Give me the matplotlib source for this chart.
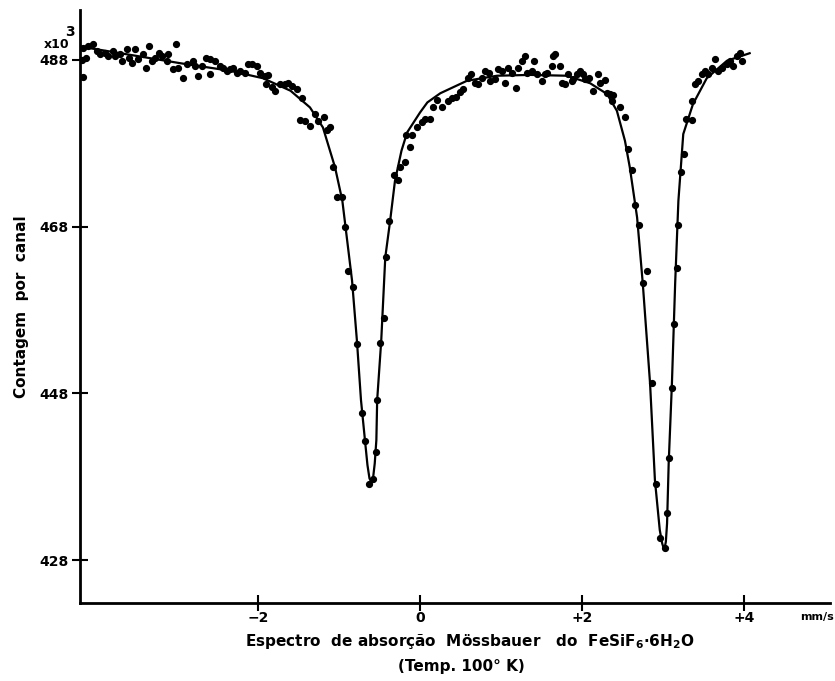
import numpy as np
import matplotlib
matplotlib.use("Agg")
import matplotlib.pyplot as plt

plt.rcParams['font.family'] = ['DejaVu Sans']
plt.rcParams['mathtext.default'] = 'regular'

# measured channels: velocity (mm/s) and counts (x10^3)
velocity = [-4.17, -4.16, -4.16, -4.12, -4.10, -4.04, -3.99, -3.95, -3.89, -3.85,
            -3.79, -3.77, -3.70, -3.68, -3.62, -3.60, -3.56, -3.52, -3.48, -3.42,
            -3.38, -3.35, -3.31, -3.27, -3.23, -3.19, -3.12, -3.11, -3.05, -3.02,
            -2.99, -2.93, -2.88, -2.81, -2.78, -2.74, -2.69, -2.65, -2.60, -2.59,
            -2.53, -2.47, -2.43, -2.38, -2.35, -2.31, -2.26, -2.22, -2.16, -2.12,
            -2.07, -2.01, -1.98, -1.91, -1.90, -1.88, -1.83, -1.79, -1.73, -1.67,
            -1.63, -1.58, -1.52, -1.48, -1.46, -1.42, -1.36, -1.30, -1.26, -1.19,
            -1.15, -1.11, -1.07, -1.02, -0.96, -0.93, -0.89, -0.83, -0.78, -0.72,
            -0.68, -0.63, -0.58, -0.54, -0.53, -0.49, -0.44, -0.42, -0.38, -0.32,
            -0.27, -0.25, -0.19, -0.17, -0.12, -0.10, -0.04, 0.02, 0.06, 0.12,
            0.16, 0.21, 0.27, 0.35, 0.40, 0.44, 0.49, 0.53, 0.59, 0.63,
            0.68, 0.72, 0.77, 0.80, 0.85, 0.86, 0.93, 0.96, 1.01, 1.05,
            1.09, 1.14, 1.19, 1.21, 1.26, 1.30, 1.32, 1.38, 1.41, 1.44,
            1.51, 1.54, 1.57, 1.63, 1.64, 1.67, 1.73, 1.75, 1.79, 1.83,
            1.88, 1.89, 1.94, 1.98, 2.01, 2.04, 2.09, 2.14, 2.20, 2.22,
            2.28, 2.31, 2.35, 2.37, 2.38, 2.47, 2.53, 2.57, 2.62, 2.65,
            2.70, 2.75, 2.80, 2.86, 2.91, 2.96, 3.02, 3.05, 3.07, 3.11,
            3.14, 3.17, 3.19, 3.22, 3.26, 3.28, 3.36, 3.36, 3.40, 3.43,
            3.48, 3.52, 3.56, 3.60, 3.64, 3.68, 3.73, 3.79, 3.83, 3.86,
            3.91, 3.95, 3.98]
counts = [488.0, 489.4, 486.0, 488.2, 489.7, 489.9, 489.1, 488.7, 488.8, 488.5,
          489.1, 488.5, 488.7, 487.9, 489.3, 488.2, 487.6, 489.3, 488.1, 488.7,
          487.0, 489.7, 487.9, 488.2, 488.8, 488.5, 487.9, 488.7, 486.9, 489.9,
          487.0, 485.8, 487.5, 487.9, 487.3, 486.1, 487.3, 488.2, 486.3, 488.1,
          487.9, 487.3, 487.0, 486.7, 486.9, 487.0, 486.4, 486.7, 486.4, 487.5,
          487.5, 487.3, 486.4, 486.1, 485.1, 486.2, 484.8, 484.3, 485.1, 485.1,
          485.2, 484.9, 484.5, 480.8, 483.4, 480.7, 480.1, 481.5, 480.7, 481.2,
          479.6, 480.0, 475.2, 471.5, 471.5, 467.9, 462.7, 460.7, 453.9, 445.6,
          442.3, 437.1, 437.7, 441.0, 447.2, 454.0, 457.0, 464.4, 468.7, 474.2,
          473.6, 475.1, 475.8, 479.0, 477.5, 479.0, 479.9, 480.5, 480.9, 480.9,
          482.3, 483.2, 482.3, 483.1, 483.4, 483.6, 484.2, 484.5, 485.8, 486.3,
          485.2, 485.1, 485.8, 486.7, 486.4, 485.5, 485.7, 486.9, 486.7, 485.2,
          487.0, 486.4, 484.6, 487.0, 487.9, 488.5, 486.4, 486.7, 487.9, 486.3,
          485.5, 486.3, 486.4, 487.3, 488.5, 488.7, 487.3, 485.2, 485.1, 486.3,
          485.5, 485.7, 486.3, 486.7, 486.3, 485.7, 485.8, 484.3, 486.3, 485.2,
          485.6, 484.0, 483.9, 483.1, 483.8, 482.3, 481.1, 477.3, 474.8, 470.6,
          468.2, 461.2, 462.7, 449.3, 437.1, 430.6, 429.4, 433.6, 440.2, 448.7,
          456.3, 463.0, 468.2, 474.5, 476.7, 480.9, 480.8, 483.1, 485.1, 485.5,
          486.3, 486.7, 486.3, 487.0, 488.1, 486.7, 487.0, 487.5, 487.9, 487.3,
          488.5, 488.8, 487.9]

# fitted curve
fit_v = [-4.20, -3.70, -2.96, -2.35, -1.94, -1.60, -1.36, -1.20, -1.05, -0.96,
         -0.90, -0.84, -0.78, -0.73, -0.68, -0.65, -0.625, -0.60, -0.58, -0.56,
         -0.54, -0.53, -0.48, -0.43, -0.37, -0.31, -0.23, -0.16, 0.00, 0.09,
         0.25, 0.58, 0.95, 1.36, 1.81, 2.10, 2.31, 2.43, 2.53, 2.59,
         2.68, 2.75, 2.84, 2.90, 2.96, 2.99, 3.015, 3.035, 3.05, 3.07,
         3.11, 3.15, 3.19, 3.25, 3.37, 3.54, 3.79, 4.07]
fit_c = [489.6, 488.8, 487.6, 486.7, 485.8, 484.3, 482.3, 479.9, 475.1, 471.1,
         466.3, 461.5, 454.3, 447.2, 442.3, 439.4, 437.8, 437.3, 437.9, 439.6,
         442.4, 447.2, 454.3, 464.3, 468.7, 473.5, 477.1, 479.3, 481.7, 482.9,
         484.0, 485.5, 486.1, 486.2, 486.1, 485.2, 483.9, 481.9, 478.3, 475.1,
         469.1, 461.2, 449.2, 437.6, 431.6, 430.0, 429.2, 430.2, 432.4, 439.6,
         449.2, 461.2, 471.1, 479.1, 482.7, 485.8, 487.9, 488.8]

y_ticks = [428, 448, 468, 488]
x_ticks = [-2, 0, 2, 4]
x_ticklabels = ['\u22122', '0', '+2', '+4']

fig = plt.figure(figsize=(8.35, 6.81), dpi=100)
ax = fig.add_axes([0.0958, 0.1145, 0.898, 0.871])

ax.plot(fit_v, fit_c, color='black', lw=1.6, zorder=2)
ax.plot(velocity, counts, 'o', color='black', ms=4.2, zorder=3)

ax.set_xlim(-4.20, 5.06)
ax.set_ylim(422.85, 494.0)

for s in ['top', 'right']:
    ax.spines[s].set_visible(False)
for s in ['left', 'bottom']:
    ax.spines[s].set_linewidth(2.0)

ax.set_xticks(x_ticks)
ax.set_xticklabels(x_ticklabels, fontsize=10, fontweight='bold')
ax.set_yticks(y_ticks)
ax.set_yticklabels([str(t) for t in y_ticks], fontsize=10, fontweight='bold')
ax.tick_params(direction='inout', length=12, width=1.5, pad=2)
ax.tick_params(axis='x', pad=0)

ax.set_ylabel('Contagem  por  canal', fontsize=11, fontweight='bold', labelpad=8)

fig.text(0.052, 0.934, 'x10', fontsize=9, fontweight='bold', ha='left', va='center')
fig.text(0.084, 0.953, '3', fontsize=10, fontweight='bold', ha='center', va='center')
fig.text(0.958, 0.094, 'mm/s', fontsize=8, fontweight='bold', ha='left', va='center')

fig.text(0.562, 0.058, 'Espectro  de absorção  Mössbauer   do  FeSiF$_6$·6H$_2$O',
         fontsize=11, fontweight='bold', ha='center', va='center')
fig.text(0.553, 0.022, '(Temp. 100° K)', fontsize=11, fontweight='bold',
         ha='center', va='center')

fig.savefig('out.png', dpi=100)
